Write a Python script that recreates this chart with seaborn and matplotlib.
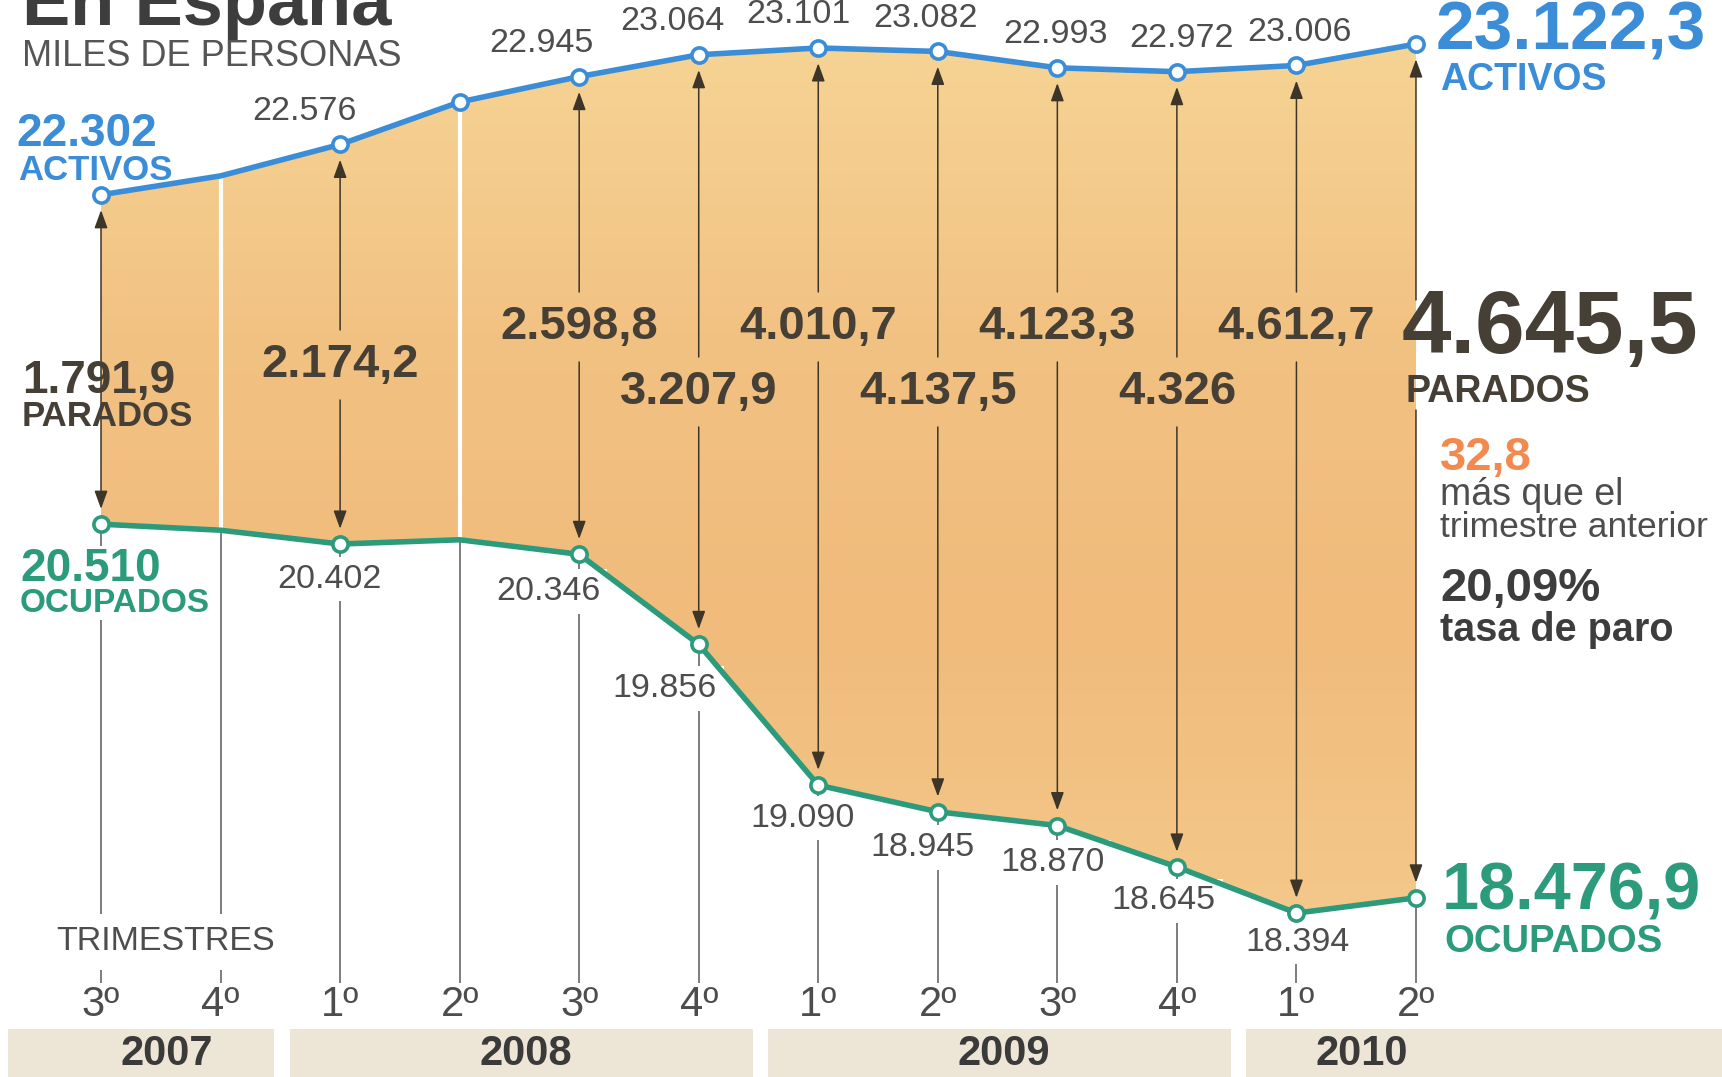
import numpy as np
import pandas as pd
import matplotlib
matplotlib.use("Agg")
import matplotlib.pyplot as plt
import seaborn as sns
from matplotlib.colors import LinearSegmentedColormap
from matplotlib.patches import Rectangle


### datos (miles de personas)
trimestres = ["3º", "4º", "1º", "2º", "3º", "4º", "1º", "2º", "3º", "4º", "1º", "2º"]
anios = ["2007", "2008", "2009", "2010"]
trimestres_por_anio = [2, 4, 4, 2]
activos = [22302, 22405, 22576, 22807, 22945, 23064, 23101, 23082, 22993, 22972, 23006, 23122.3]
ocupados = [20510, 20477, 20402, 20425, 20346, 19856, 19090, 18945, 18870, 18645, 18394, 18476.9]
parados = [1791.9, None, 2174.2, None, 2598.8, 3207.9, 4010.7, 4137.5, 4123.3, 4326, 4612.7, 4645.5]
variacion_parados = "32,8"
tasa_paro = "20,09%"

### estilo
BLUE = "#3a8dd6"
GREEN = "#2b9b7c"
GRAY = "#4d4d4d"
DARK = "#463f35"
ORANGE = "#f28a50"
W, H = 1722, 1077
XL0, XL1 = -0.845, 13.56
YBOT, YTOP = 17502, 23362

# donde va cada etiqueta (pixeles)
act_dx = [0, 0, -36, 0, -38, -26, -20, -12, -2, 5, 3, 0]
ocu_dx = [0, 0, -11, 0, -31, -34, -16, -15, -5, -13, 1, 0]
ocu_dy = [0, 0, 35, 0, 37, 44, 33, 36, 37, 34, 29, 0]
par_y = [381, None, 365, None, 327, 392, 327, 392, 327, 392, 327, 330]


def es(v):
    s = f"{v:,.1f}" if v % 1 else f"{v:,.0f}"
    return s.replace(",", "X").replace(".", ",").replace("X", ".")


def ypx(px):
    return YTOP - px * (YTOP - YBOT) / H


def ft(x, y, s, **kw):
    return fig.text(x / W, 1 - y / H, s, **kw)


sns.set_style("white")
plt.rcParams['font.family'] = ['Liberation Sans', 'DejaVu Sans']

df = pd.DataFrame({"pos": np.arange(len(trimestres)), "trimestre": trimestres,
                   "activos": activos, "ocupados": ocupados, "parados": parados})
con_dato = df.parados.notna()
marca_act = con_dato | (df.pos == 3)

fig = plt.figure(figsize=(W / 100, H / 100), dpi=100)
ax = fig.add_axes([0, 0, 1, 1])

### relleno con degradado entre activos y ocupados
poly = ax.fill_between(df.pos, df.ocupados, df.activos, facecolor="none", edgecolor="none")
grad = np.linspace(0, 1, 256).reshape(-1, 1)
cmap = LinearSegmentedColormap.from_list("paro", ["#f6d595", "#f2c283", "#f0bb7b", "#f4c98b"])
im = ax.imshow(grad, extent=[0, 11, 18300, 23200], aspect="auto", cmap=cmap,
               origin="upper", zorder=1)
im.set_clip_path(poly.get_paths()[0], transform=ax.transData)

# lineas blancas en los trimestres sin dato
sin = df[~con_dato]
ax.vlines(sin.pos, sin.ocupados, sin.activos, color="white", lw=3, zorder=2)

# lineas guia hacia los trimestres
ax.vlines(df.pos, ypx(983), df.ocupados, color="#5a5a5a", lw=1.1, zorder=2)

### flechas de parados
ap = dict(arrowstyle="-|>,head_length=0.55,head_width=0.2", color="#3d3528", lw=1.1,
          mutation_scale=20, shrinkA=0, shrinkB=11)
for i, row in df[con_dato].iterrows():
    if i == 0:
        ap2 = dict(ap, arrowstyle="<|-|>,head_length=0.55,head_width=0.2", shrinkA=11)
        ax.annotate("", xy=(i, row.ocupados), xytext=(i, row.activos), arrowprops=ap2, zorder=3)
        continue
    py = par_y[i]
    top_gap, bot_gap = (30, 80) if i == 11 else (35, 35)
    ax.annotate("", xy=(i, row.activos), xytext=(i, ypx(py - top_gap)), arrowprops=ap, zorder=3)
    ax.annotate("", xy=(i, row.ocupados), xytext=(i, ypx(py + bot_gap)), arrowprops=ap, zorder=3)
    if i < 11:
        ax.text(i, ypx(py), es(row.parados), ha="center", va="center", fontsize=34,
                weight="bold", color=DARK, zorder=4)

### lineas
sns.lineplot(data=df, x="pos", y="activos", color=BLUE, lw=4, ax=ax, zorder=5)
sns.lineplot(data=df, x="pos", y="ocupados", color=GREEN, lw=4, ax=ax, zorder=5)
sns.scatterplot(x=df.pos[marca_act], y=df.activos[marca_act], s=120, color="white",
                edgecolor=BLUE, linewidth=2.6, ax=ax, zorder=6)
sns.scatterplot(x=df.pos[con_dato], y=df.ocupados[con_dato], s=120, color="white",
                edgecolor=GREEN, linewidth=2.6, ax=ax, zorder=6)

### etiquetas de valores
for i, row in df[con_dato].iterrows():
    if i in (0, 11):
        continue
    ax.annotate(es(row.activos), xy=(i, row.activos), xytext=(act_dx[i], 33),
                textcoords="offset pixels", ha="center", va="center", fontsize=24.5,
                color=GRAY, zorder=4)
    ax.annotate(es(row.ocupados), xy=(i, row.ocupados), xytext=(ocu_dx[i], -ocu_dy[i]),
                textcoords="offset pixels", ha="center", va="center", fontsize=24.5,
                color=GRAY, zorder=4,
                bbox=dict(facecolor="white", edgecolor="none", pad=5))

### eje de trimestres y años
xt = ax.get_xaxis_transform()
for i, t in enumerate(trimestres):
    ax.text(i, ypx(1005), t, ha="center", va="center", fontsize=30, color=GRAY)
ax.text(0.54, ypx(942), "TRIMESTRES", ha="center", va="center", fontsize=24.5, color=GRAY,
        zorder=4, bbox=dict(facecolor="white", edgecolor="none", pad=9))

ini = np.cumsum([0] + trimestres_por_anio[:-1])
fin = ini + np.array(trimestres_por_anio) - 1
for k, anio in enumerate(anios):
    x0 = XL0 + 0.07 if k == 0 else ini[k] - 0.42
    x1 = XL1 if k == len(anios) - 1 else fin[k] + 0.45
    ax.add_patch(Rectangle((x0, 0), x1 - x0, 48 / H, transform=xt,
                           facecolor="#ede5d6", edgecolor="none", zorder=1))
    ax.text((ini[k] + fin[k]) / 2 + 0.05, 1 - 1054 / H, anio, transform=xt, ha="center",
            va="center", fontsize=30, weight="bold", color="#3a3a3a", zorder=2)

ax.set_xlim(XL0, XL1)
ax.set_ylim(YBOT, YTOP)
ax.axis("off")

### textos fijos
ft(22, 25, "En España", fontsize=52, weight="bold", color="#3d3d3d", va="baseline")
ft(22, 57, "MILES DE PERSONAS", fontsize=26, color="#555555", va="center")

# izquierda
ft(16, 134, es(activos[0]), fontsize=33, weight="bold", color=BLUE, va="center")
ft(18, 170, "ACTIVOS", fontsize=25, weight="bold", color=BLUE, va="center")
ft(22, 381, es(parados[0]), fontsize=33, weight="bold", color=DARK, va="center", zorder=4)
ft(22, 417, "PARADOS", fontsize=25, weight="bold", color=DARK, va="center", zorder=4)
ft(20, 569, es(ocupados[0]), fontsize=33, weight="bold", color=GREEN, va="center",
   bbox=dict(facecolor="white", edgecolor="none", pad=1))
ft(20, 603, "OCUPADOS", fontsize=24, weight="bold", color=GREEN, va="center",
   bbox=dict(facecolor="white", edgecolor="none", pad=1))

# derecha
ft(1436, 32, es(activos[-1]), fontsize=50, weight="bold", color=BLUE, va="center")
ft(1440, 80, "ACTIVOS", fontsize=27, weight="bold", color=BLUE, va="center")
ft(1402, 330, es(parados[-1]), fontsize=64, weight="bold", color=DARK, va="center", zorder=5)
ft(1405, 392, "PARADOS", fontsize=27, weight="bold", color=DARK, va="center", zorder=5)
ft(1440, 458, variacion_parados, fontsize=34, weight="bold", color=ORANGE, va="center")
ft(1440, 495, "más que el", fontsize=27, color=GRAY, va="center")
ft(1440, 528, "trimestre anterior", fontsize=25.5, color=GRAY, va="center")
ft(1440, 589, tasa_paro, fontsize=34, weight="bold", color="#3d3d3d", va="center")
ft(1440, 630, "tasa de paro", fontsize=28.5, weight="bold", color="#3d3d3d", va="center")
ft(1442, 892, es(ocupados[-1]), fontsize=48, weight="bold", color=GREEN, va="center")
ft(1444, 942, "OCUPADOS", fontsize=27.5, weight="bold", color=GREEN, va="center")

fig.savefig("out.png", dpi=100, facecolor="white")
